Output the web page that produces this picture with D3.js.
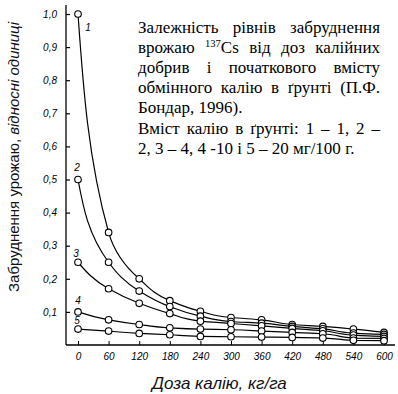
<!DOCTYPE html>
<html>
<head>
<meta charset="utf-8">
<script src="https://cdn.jsdelivr.net/npm/d3@7"></script>
<style>
  body { margin: 0; background: #fff; }
  svg { display: block; }
</style>
</head>
<body>
<div id="chart"></div>
<script>
// Dose of potassium, kg/ha
const doses = [0, 60, 120, 180, 240, 300, 360, 420, 480, 540, 600];
const doseLabels = ["0", "60", "120", "180", "240", "300", "360", "420", "480", "540", "600"];

// relative contamination, one array per soil K content
const curve1 = [1.0, 0.34, 0.20, 0.134, 0.102, 0.083, 0.076, 0.062, 0.056, 0.048, 0.038];
const curve2 = [0.5, 0.25, 0.163, 0.116, 0.087, 0.071, 0.066, 0.056, 0.049, 0.036, 0.032];
const curve3 = [0.25, 0.17, 0.126, 0.095, 0.072, 0.065, 0.058, 0.05, 0.043, 0.03, 0.026];
const curve4 = [0.1, 0.076, 0.062, 0.052, 0.048, 0.046, 0.042, 0.038, 0.034, 0.021, 0.02];
const curve5 = [0.048, 0.042, 0.035, 0.031, 0.026, 0.025, 0.024, 0.023, 0.021, 0.014, 0.013];
const curveNames = ["1", "2", "3", "4", "5"];

const yTicks = [0.1, 0.2, 0.3, 0.4, 0.5, 0.6, 0.7, 0.8, 0.9, 1.0];

const yTitleMain = "Забруднення урожаю, ";
const yTitleItalic = "відносні одиниці";
const xTitle = "Доза калію,  кг/га";

// caption lines: each word is a list of [text, isSuperscript]
const captionLines = [
  { words: [[["Залежність"]], [["рівнів"]], [["забруднення"]]], justify: true },
  { words: [[["врожаю"]], [["137", true], ["Cs"]], [["від"]], [["доз"]], [["калійних"]]], justify: true },
  { words: [[["добрив"]], [["і"]], [["початкового"]], [["вмісту"]]], justify: true },
  { words: [[["обмінного"]], [["калію"]], [["в"]], [["ґрунті"]], [["(П.Ф."]]], justify: true },
  { words: [[["Бондар,"]], [["1996)."]]], justify: false },
  { words: [[["Вміст"]], [["калію"]], [["в"]], [["ґрунті:"]], [["1"]], [["–"]], [["1,"]], [["2"]], [["–"]]], justify: true },
  { words: [[["2,"]], [["3"]], [["–"]], [["4,"]], [["4"]], [["-10"]], [["і"]], [["5"]], [["–"]], [["20"]], [["мг/100"]], [["г."]]], justify: false }
];

const width = 398, height = 394;
const svg = d3.select("#chart").append("svg")
  .attr("width", width)
  .attr("height", height);

const x = d3.scaleLinear().domain([0, 600]).range([78, 384]);
const y = d3.scaleLinear().domain([0, 1]).range([345, 14]);

const axisX0 = 66;

// axis frame lines
svg.append("line")
  .attr("x1", axisX0).attr("x2", axisX0)
  .attr("y1", 5).attr("y2", y(0))
  .attr("stroke", "#000").attr("stroke-width", 1.3);
svg.append("line")
  .attr("x1", axisX0).attr("x2", 395)
  .attr("y1", y(0)).attr("y2", y(0))
  .attr("stroke", "#000").attr("stroke-width", 1.3);

// y axis ticks
const yAxis = d3.axisLeft(y)
  .tickValues(yTicks)
  .tickSizeInner(-4)
  .tickSizeOuter(0)
  .tickPadding(9)
  .tickFormat(d => d3.format(".1f")(d).replace(".", ","));
const gy = svg.append("g")
  .attr("transform", `translate(${axisX0},0)`)
  .call(yAxis);
gy.select(".domain").remove();
gy.selectAll("line").attr("stroke", "#000").attr("stroke-width", 1.2);
gy.selectAll("text")
  .attr("font-family", "Liberation Sans, Arial, sans-serif")
  .attr("font-style", "italic")
  .attr("font-size", 10)
  .attr("fill", "#000");

// x axis ticks
const xAxis = d3.axisBottom(x)
  .tickValues(doses)
  .tickSizeInner(-4)
  .tickSizeOuter(0)
  .tickPadding(8)
  .tickFormat((d, i) => doseLabels[i]);
const gx = svg.append("g")
  .attr("transform", `translate(0,${y(0)})`)
  .call(xAxis);
gx.select(".domain").remove();
gx.selectAll("line").attr("stroke", "#000").attr("stroke-width", 1);
gx.selectAll("text")
  .attr("font-family", "Liberation Sans, Arial, sans-serif")
  .attr("font-style", "italic")
  .attr("font-size", 10)
  .attr("fill", "#000");

// curves
const series = [curve1, curve2, curve3, curve4, curve5];
const line = d3.line()
  .x((d, i) => x(doses[i]))
  .y(d => y(d))
  .curve(d3.curveMonotoneY);

svg.append("g")
  .selectAll("path")
  .data(series)
  .join("path")
  .attr("d", d => line(d))
  .attr("fill", "none")
  .attr("stroke", "#000")
  .attr("stroke-width", 1.2);

svg.append("g")
  .selectAll("g")
  .data(series)
  .join("g")
  .selectAll("circle")
  .data(d => d)
  .join("circle")
  .attr("cx", (d, i) => x(doses[i]))
  .attr("cy", d => y(d))
  .attr("r", 3.3)
  .attr("fill", "#fff")
  .attr("stroke", "#000")
  .attr("stroke-width", 1.1);

// curve numbers near first point
const labelOffsets = [[10, 13], [-1, -12], [-2, -9], [0, -11], [-1, -9]];
svg.append("g")
  .selectAll("text")
  .data(series)
  .join("text")
  .attr("x", (d, i) => x(doses[0]) + labelOffsets[i][0])
  .attr("y", (d, i) => y(d[0]) + labelOffsets[i][1] + 3.5)
  .attr("text-anchor", "middle")
  .attr("font-family", "Liberation Sans, Arial, sans-serif")
  .attr("font-style", "italic")
  .attr("font-size", 10)
  .text((d, i) => curveNames[i]);

// axis titles
const yt = svg.append("text")
  .attr("transform", "translate(19,157) rotate(-90)")
  .attr("text-anchor", "middle")
  .attr("font-family", "Liberation Sans, Arial, sans-serif")
  .attr("font-size", 15)
  .attr("fill", "#111");
yt.append("tspan").text(yTitleMain);
yt.append("tspan").attr("font-style", "italic").text(yTitleItalic);

svg.append("text")
  .attr("x", 152)
  .attr("y", 389)
  .attr("font-family", "Liberation Sans, Arial, sans-serif")
  .attr("font-style", "italic")
  .attr("font-size", 17)
  .attr("fill", "#111")
  .text(xTitle);

// caption, justified by hand
const capLeft = 138, capRight = 380, capTop = 33, capStep = 20.1, capSize = 17;
const cap = svg.append("g")
  .attr("font-family", "Liberation Serif, Times New Roman, serif")
  .attr("font-size", capSize)
  .attr("fill", "#000");

captionLines.forEach((ln, li) => {
  const by = capTop + li * capStep;
  const nodes = ln.words.map(w => {
    const t = cap.append("text").attr("y", by);
    w.forEach(seg => {
      const ts = t.append("tspan").text(seg[0]);
      if (seg[1]) ts.attr("font-size", capSize * 0.62).attr("dy", -6);
      else if (w.length > 1) ts.attr("dy", 6);
    });
    return t;
  });
  const widths = nodes.map(n => n.node().getComputedTextLength());
  const total = d3.sum(widths);
  const gap = ln.justify && nodes.length > 1
    ? (capRight - capLeft - total) / (nodes.length - 1)
    : capSize * 0.25;
  let cx = capLeft;
  nodes.forEach((n, i) => {
    n.attr("x", cx);
    cx += widths[i] + gap;
  });
});
</script>
</body>
</html>
